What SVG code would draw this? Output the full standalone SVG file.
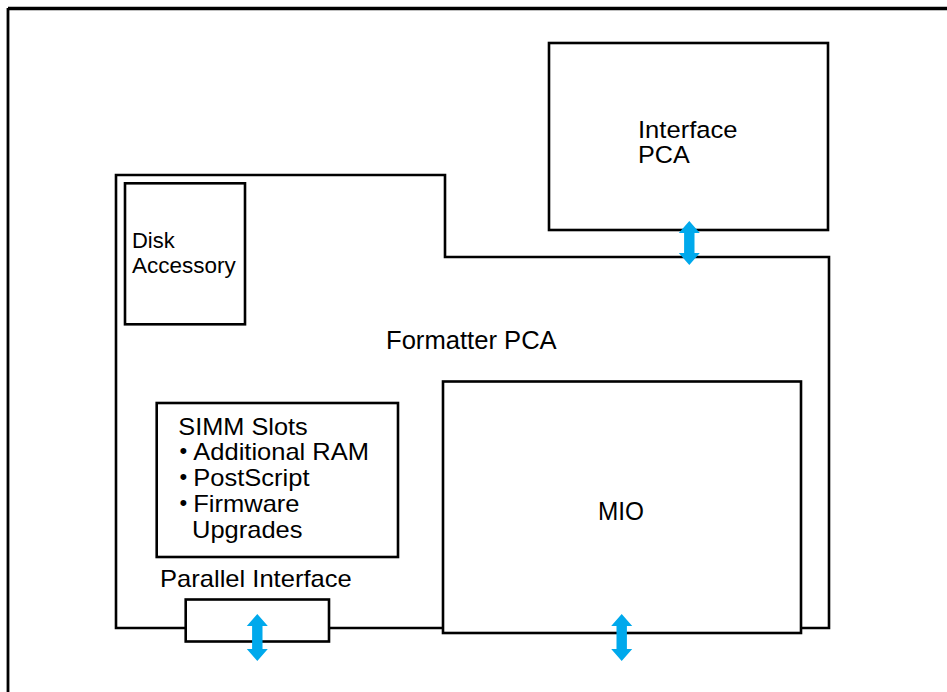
<svg xmlns="http://www.w3.org/2000/svg" width="947" height="692" viewBox="0 0 947 692">
<style>
.box{fill:#fff;stroke:#000;stroke-width:2.6}
.t{font-family:"Liberation Sans",Arial,sans-serif;fill:#000}
.arr{fill:#00A9EC;stroke:none}
</style>
<rect width="947" height="692" fill="#fff"/>
<g id="frame">
<path d="M8,8.5 H960" stroke="#000" stroke-width="3.5" fill="none"/>
<path d="M8,8 V700" stroke="#000" stroke-width="2.8" fill="none"/>
</g>
<g id="interface-pca">
<rect class="box" x="549" y="43" width="279" height="187"/>
<text class="t" font-size="24.5"><tspan x="638" y="138.3" textLength="99.5" lengthAdjust="spacingAndGlyphs">Interface</tspan><tspan x="638" y="163.3" textLength="51.7" lengthAdjust="spacingAndGlyphs">PCA</tspan></text>
</g>
<g id="formatter-pca">
<path class="box" d="M116,175 H445 V257 H829 V628 H116 Z"/>
<text class="t" font-size="25" x="386" y="349" textLength="170.7" lengthAdjust="spacingAndGlyphs">Formatter PCA</text>
</g>
<g id="disk-accessory">
<rect class="box" x="125" y="183.3" width="120" height="141"/>
<text class="t" font-size="22"><tspan x="132" y="248" textLength="42.7" lengthAdjust="spacingAndGlyphs">Disk</tspan><tspan x="132" y="273" textLength="103.7" lengthAdjust="spacingAndGlyphs">Accessory</tspan></text>
</g>
<g id="simm-slots">
<rect class="box" x="156.7" y="403" width="241.3" height="154"/>
<text class="t" font-size="24">
<tspan x="178.3" y="434.5" textLength="129.4" lengthAdjust="spacingAndGlyphs">SIMM Slots</tspan>
<tspan x="179.5" y="458" font-size="22">•</tspan><tspan x="193.3" y="460" textLength="175.7" lengthAdjust="spacingAndGlyphs">Additional RAM</tspan>
<tspan x="179.5" y="484" font-size="22">•</tspan><tspan x="193.3" y="486" textLength="116.2" lengthAdjust="spacingAndGlyphs">PostScript</tspan>
<tspan x="179.5" y="510" font-size="22">•</tspan><tspan x="193.3" y="512" textLength="106.2" lengthAdjust="spacingAndGlyphs">Firmware</tspan>
<tspan x="192" y="538" textLength="110.5" lengthAdjust="spacingAndGlyphs">Upgrades</tspan>
</text>
</g>
<g id="parallel-interface">
<rect class="box" x="185.7" y="599.5" width="143.3" height="42"/>
<text class="t" font-size="24" x="160" y="587" textLength="191.7" lengthAdjust="spacingAndGlyphs">Parallel Interface</text>
</g>
<g id="mio">
<rect class="box" x="443" y="381.5" width="358" height="251.5"/>
<text class="t" font-size="25" x="598" y="520" textLength="46" lengthAdjust="spacingAndGlyphs">MIO</text>
</g>
<g id="connectors">
<path class="arr" d="M689.3,221 L699.8,233 L694.5,233 L694.5,253 L699.8,253 L689.3,265 L678.8,253 L684.1,253 L684.1,233 L678.8,233 Z"/>
<path class="arr" d="M257.3,614 L267.8,626 L262.5,626 L262.5,649 L267.8,649 L257.3,661 L246.8,649 L252.1,649 L252.1,626 L246.8,626 Z"/>
<path class="arr" d="M621.7,614 L632.2,626 L626.9,626 L626.9,649 L632.2,649 L621.7,661 L611.2,649 L616.5,649 L616.5,626 L611.2,626 Z"/>
</g>
</svg>
